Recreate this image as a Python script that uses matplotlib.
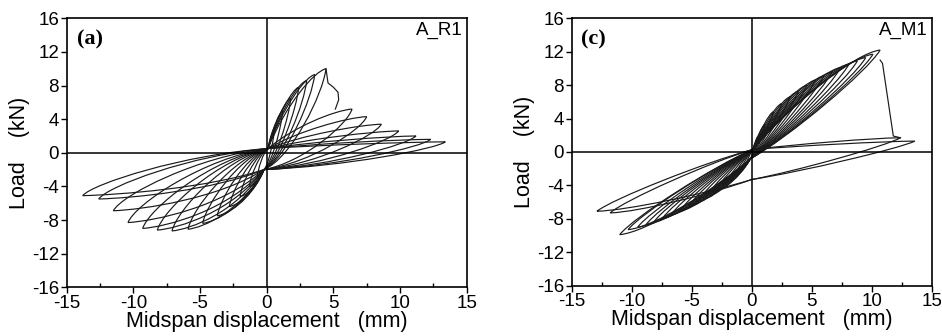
import matplotlib
matplotlib.use("Agg")
import matplotlib.pyplot as plt
from matplotlib.path import Path
from matplotlib.patches import PathPatch
from matplotlib.ticker import MultipleLocator

plt.rcParams['font.family'] = ['Liberation Sans', 'DejaVu Sans']
plt.rcParams['axes.unicode_minus'] = False

# panel (a) A_R1 : cycle peaks (displacement mm, load kN)
a_pos_x = [0.6, 1.2, 1.8, 2.4, 3.0, 3.6, 4.45, 6.4, 7.5, 8.6, 9.9, 11.2, 12.3, 13.4]
a_pos_f = [3.0, 5.0, 6.5, 7.8, 8.6, 9.3, 10.0, 5.2, 4.3, 3.4, 2.6, 2.0, 1.6, 1.3]
a_neg_x = [-0.7, -1.3, -2.0, -2.8, -3.7, -4.8, -5.9, -7.1, -8.2, -9.3, -10.4, -11.5, -12.6, -13.8]
a_neg_f = [-2.8, -4.0, -5.2, -6.4, -7.5, -8.4, -9.1, -9.3, -9.2, -9.0, -8.3, -6.9, -5.5, -5.1]
# load drop after peak
a_drop_x = [4.45, 4.6, 5.0, 5.35, 5.4, 5.15]
a_drop_f = [10.0, 8.3, 7.8, 7.2, 6.3, 5.2]

# panel (c) A_M1
c_pos_x = [0.5, 1.1, 1.8, 2.5, 3.2, 3.9, 4.6, 5.3, 6.0, 6.7, 7.4, 8.1, 8.8, 9.5, 10.1, 10.7, 12.4, 13.6]
c_pos_f = [1.8, 3.3, 4.8, 5.8, 6.6, 7.3, 8.0, 8.6, 9.1, 9.6, 10.1, 10.5, 10.9, 11.3, 11.7, 12.2, 1.7, 1.3]
c_neg_x = [-0.5, -1.1, -1.8, -2.5, -3.2, -3.9, -4.6, -5.3, -6.0, -6.7, -7.4, -8.1, -8.8, -9.5, -10.3, -11.0, -11.8, -12.9]
c_neg_f = [-1.5, -2.6, -3.6, -4.4, -5.0, -5.6, -6.1, -6.6, -7.1, -7.5, -7.9, -8.3, -8.7, -9.0, -9.3, -9.9, -7.3, -7.1]
c_drop_x = [10.7, 10.9, 11.8, 12.4]
c_drop_f = [11.0, 10.6, 1.9, 1.7]

LC = '#1a1a1a'
LW = 0.85


def half_cycle(p0, tip, p1, rise, fall):
    # loading p0 -> tip, unloading tip -> p1, as cubic bezier pieces
    dx, dy = tip[0] - p0[0], tip[1] - p0[1]
    c1 = (p0[0] + rise[0] * dx, p0[1] + rise[1] * dy)
    c2 = (tip[0] - 0.2 * dx, tip[1] - 0.03 * dy)
    ex, ey = tip[0] - p1[0], tip[1] - p1[1]
    c3 = (tip[0] - fall[0] * ex, tip[1] - fall[1] * ey)
    c4 = (p1[0] + fall[2] * ex, p1[1] + fall[3] * ey)
    return [c1, c2, tip, c3, c4, p1]


def draw_loops(ax, px, pf, nx_, nf, A, B, rise_p, rise_n, fall):
    for i in range(len(px)):
        verts = [A]
        verts += half_cycle(A, (px[i], pf[i]), B[i], rise_p, fall)
        verts += half_cycle(B[i], (nx_[i], nf[i]), A, rise_n, fall)
        codes = [Path.MOVETO] + [Path.CURVE4] * 12
        ax.add_patch(PathPatch(Path(verts, codes), fc='none', ec=LC, lw=LW))


def style(ax, label, tag):
    ax.set_xlim(-15, 15)
    ax.set_ylim(-16, 16)
    ax.xaxis.set_major_locator(MultipleLocator(5))
    ax.xaxis.set_minor_locator(MultipleLocator(2.5))
    ax.yaxis.set_major_locator(MultipleLocator(4))
    ax.tick_params(axis='both', which='major', labelsize=13.5, length=4,
                   width=1, direction='out', pad=1.5)
    ax.tick_params(axis='x', which='minor', length=3, width=1, direction='in')
    for s in ax.spines.values():
        s.set_linewidth(1.2)
    ax.axhline(0, color='k', lw=1.1)
    ax.axvline(0, color='k', lw=1.1)
    ax.set_xlabel('Midspan displacement   (mm)', fontsize=15.5, labelpad=-1)
    ax.set_ylabel('Load    (kN)', fontsize=15.5, labelpad=1)
    ax.text(0.025, 0.92, label, transform=ax.transAxes, fontsize=16,
            fontweight='bold', family='Liberation Serif', va='center', ha='left')
    ax.text(0.99, 0.955, tag, transform=ax.transAxes, fontsize=13.5,
            va='center', ha='right')


fig = plt.figure(figsize=(9.42, 3.36), dpi=100)
ax1 = fig.add_axes([0.0708, 0.145, 0.4246, 0.8006])
ax2 = fig.add_axes([0.6069, 0.150, 0.3822, 0.7955])

style(ax1, '(a)', 'A_R1')
style(ax2, '(c)', 'A_M1')

draw_loops(ax1, a_pos_x, a_pos_f, a_neg_x, a_neg_f,
           (0.1, 0.5), [(-0.2, -2.0)] * len(a_pos_x),
           (0.3, 0.55), (0.3, 0.7), (0.05, 0.25, 0.45, 0.12))
ax1.plot(a_drop_x, a_drop_f, color=LC, lw=LW)

c_B = [(-0.1, -0.8)] * 16 + [(0.0, -3.3)] * 2
draw_loops(ax2, c_pos_x, c_pos_f, c_neg_x, c_neg_f,
           (0.1, 0.3), c_B,
           (0.3, 0.45), (0.3, 0.45), (0.1, 0.2, 0.3, 0.2))
ax2.plot(c_drop_x, c_drop_f, color=LC, lw=LW)

fig.savefig('out.png', dpi=100)
